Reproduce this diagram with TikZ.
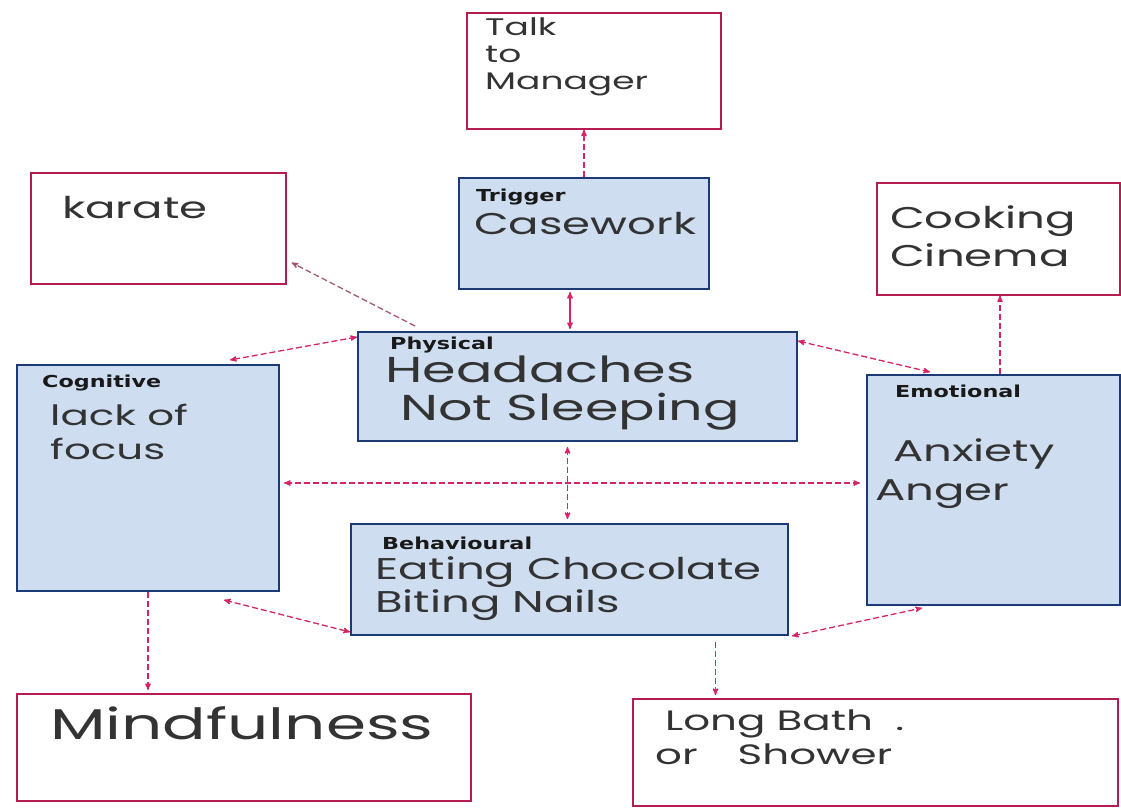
\documentclass[tikz,border=0pt]{standalone}
\usepackage{fontspec}
\setmainfont{Liberation Sans}
\newfontfamily\handfont[FakeStretch=1.5]{Poppins}
\newfontfamily\headfont[FakeStretch=1.35]{DejaVu Sans}
\usetikzlibrary{arrows, positioning, calc}
\definecolor{boxblue}{RGB}{206,222,240}
\definecolor{edgeblue}{RGB}{28,58,118}
\definecolor{tippink}{RGB}{214,36,104}
\definecolor{framered}{RGB}{182,28,82}
\newcommand{\handsz}[2]{\handfont\fontsize{#1}{#2}\selectfont}
\tikzset{
   mycard/.style={draw=edgeblue, fill=boxblue, line width=2pt, anchor=north west, inner sep=0pt},
   myidea/.style={draw=framered, fill=white, line width=1.6pt, anchor=north west, inner sep=0pt},
   myhead/.style={anchor=north west, inner sep=0pt, text=black!90, font=\headfont\bfseries\fontsize{16.5}{18}\selectfont},
   myhand/.style={anchor=north west, inner sep=0pt, align=left, text=black!80}
}

\begin{document}
\begin{tikzpicture}[x=1pt, y=-1pt, >=stealth',
        line/.style={draw=tippink, dashed, dash pattern=on 6pt off 3pt, line width=1.3pt}]
    \useasboundingbox (0,0) rectangle (1121,809);
    % outer boxes
    \node[myidea, minimum width=254pt, minimum height=116pt] (talk) at (466,12) {};
    \node[myidea, minimum width=255pt, minimum height=111pt] (kara) at (30,172) {};
    \node[myidea, minimum width=243pt, minimum height=112pt] (cook) at (876,182) {};
    \node[myidea, minimum width=454pt, minimum height=107pt] (mind) at (16,693) {};
    \node[myidea, minimum width=485pt, minimum height=107pt] (bath) at (632,698) {};
    % blue cards
    \node[mycard, minimum width=250pt, minimum height=111pt] (trig) at (458,177) {};
    \node[mycard, minimum width=439pt, minimum height=109pt] (phys) at (357,331) {};
    \node[mycard, minimum width=262pt, minimum height=226pt] (cogn) at (16,364) {};
    \node[mycard, minimum width=253pt, minimum height=230pt] (emot) at (866,374) {};
    \node[mycard, minimum width=437pt, minimum height=111pt] (behv) at (350,523) {};
    % texts
    \node[myhand, font=\handsz{24}{27}] (talkT) at (485,18) {Talk\\to\\Manager};
    \node[myhead] (trigH) at (476,189) {Trigger};
    \node[myhand, font=\handsz{30}{32}] (trigT) at (474,212) {Casework};
    \node[myhand, font=\handsz{30}{32}] (karaT) at (62,196) {karate};
    \node[myhand, font=\handsz{30}{38}] (cookT) at (890,205) {Cooking\\Cinema};
    \node[myhead] (physH) at (390,337) {Physical};
    \node[myhand, font=\handsz{36}{38}] (physT) at (385,356) {Headaches\\\hspace*{15pt}Not Sleeping};
    \node[myhead] (cognH) at (42,375) {Cognitive};
    \node[myhand, font=\handsz{28}{34}] (cognT) at (50,404) {lack of\\focus};
    \node[myhead] (emotH) at (895,385) {Emotional};
    \node[myhand, font=\handsz{30}{32}] (emotT) at (893,438) {Anxiety};
    \node[myhand, font=\handsz{30}{32}] (emotU) at (875,480) {Anger};
    \node[myhead] (behvH) at (382,537) {Behavioural};
    \node[myhand, font=\handsz{30}{33}] (behvT) at (375,556) {Eating Chocolate\\Biting Nails};
    \node[myhand, font=\handsz{43}{45}] (mindT) at (50,706) {Mindfulness};
    \node[myhand, font=\handsz{28}{34}] (bathT) at (665,710) {Long Bath \ .\\\hspace*{-10pt}or\hspace{40pt}Shower};
    % links
    \path[line, ->] (trig.north) -- (trig.north |- talk.south);
    \path[line, <->, solid, shorten <=2pt, shorten >=2pt] ([xshift=-14pt]trig.south) -- ([xshift=-14pt]trig.south |- phys.north);
    \path[line, ->, draw=tippink!45!gray] ([xshift=58pt,yshift=5pt]phys.north west) -- ([xshift=5pt,yshift=22pt]kara.south east);
    \path[line, <->] ([yshift=-6pt]phys.north west) -- ([xshift=-50pt,yshift=4pt]cogn.north east);
    \path[line, <->] ([yshift=-10pt]phys.north east) -- ([xshift=64pt,yshift=2pt]emot.north west);
    \path[line, ->] ([xshift=134pt]emot.north west) -- ([xshift=134pt]emot.north west |- cook.south);
    \path[line, <->, shorten <=5pt, shorten >=4pt] ([xshift=-10pt]phys.south) -- ([xshift=-10pt]phys.south |- behv.north);
    \path[line, <->, shorten <=4pt, shorten >=6pt] ([yshift=-5pt]cogn.east) -- ([yshift=-5pt]cogn.east -| emot.west);
    \path[line, <->] ([xshift=-56pt,yshift=-8pt]cogn.south east) -- ([yshift=4pt]behv.south west);
    \path[line, <->] ([xshift=3pt]behv.south east) -- ([xshift=56pt,yshift=-2pt]emot.south west);
    \path[line, ->, shorten >=3pt] (cogn.south) -- (cogn.south |- mind.north);
    \path[line, ->, shorten <=6pt, shorten >=3pt] ([xshift=146pt]behv.south) -- ([xshift=146pt]behv.south |- bath.north);
\end{tikzpicture}
\end{document}
